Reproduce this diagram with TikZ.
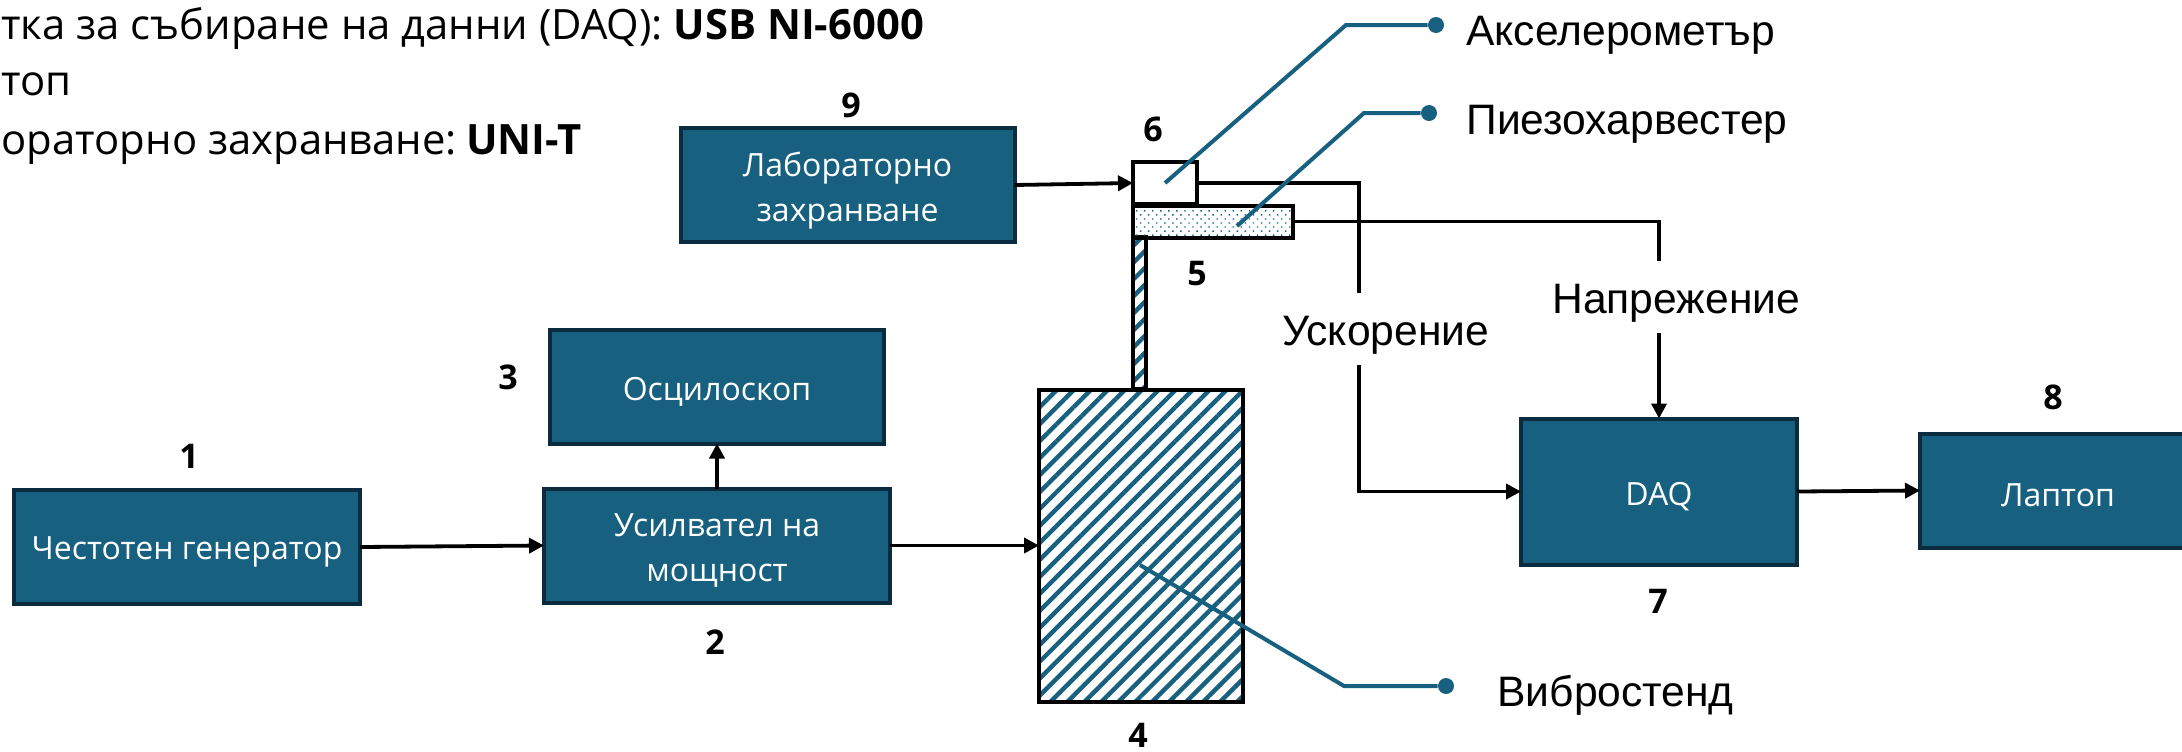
\documentclass[tikz,border=0pt]{standalone}
\usepackage{fontspec}
\setmainfont{Open Sans}
\newfontfamily\labelfont{Liberation Sans}
\usetikzlibrary{arrows.meta,patterns.meta}
\definecolor{benchBlue}{HTML}{17607F}
\definecolor{benchDark}{HTML}{0B2C3F}
\tikzset{
  blockbox/.style={draw=benchDark, fill=benchBlue, line width=2pt, inner sep=0, outer sep=0},
  blocktext/.style={yshift=-2.6pt, inner sep=0, text=white, align=center,
    font=\fontsize{16}{22.5}\selectfont},
  partbox/.style={draw=black, line width=2pt, inner sep=0, outer sep=0},
  numlabel/.style={inner sep=0, font=\bfseries\fontsize{17}{20}\selectfont},
  signallabel/.style={inner sep=0, anchor=base west, font=\labelfont\fontsize{21.3}{25}\selectfont},
  conn/.style={draw=black, line width=1.9pt, -{Triangle[length=7.5pt,width=7.5pt]}},
  wire/.style={draw=black, line width=1.9pt},
  leaderline/.style={draw=benchBlue, line width=2pt},
  leaderdot/.style={circle, fill=benchBlue, inner sep=0, minimum size=8pt},
  toptext/.style={inner sep=0, anchor=base west, font=\fontsize{20.9}{25}\selectfont},
  hatchfill/.style={pattern={Lines[angle=45,distance=6pt,line width=2.2pt]}, pattern color=benchBlue},
}

\begin{document}
\begin{tikzpicture}[x=0.5pt, y=-0.5pt]
\useasboundingbox (0,0) rectangle (2182,751);

% --- text at top ---
\node[toptext] (lineA) at (1,39) {тка за събиране на данни (DAQ): \textbf{USB NI-6000}};
\node[toptext] (lineB) at (1,95) {топ};
\node[toptext] (lineC) at (1,154) {ораторно захранване:\hspace{-0.12em} \textbf{UNI-T}};

% --- blocks ---
\node[blockbox, minimum width=173pt, minimum height=57pt,
  label={[blocktext]center:{Честотен генератор}}] (gen) at (187,547) {};
\node[blockbox, minimum width=173pt, minimum height=57pt,
  label={[blocktext]center:{Усилвател на\\мощност}}] (amp) at (717,545.5) {};
\node[blockbox, minimum width=167pt, minimum height=57pt,
  label={[blocktext]center:{Осцилоскоп}}] (osc) at (717,386.5) {};
\node[blockbox, minimum width=167pt, minimum height=57pt,
  label={[blocktext]center:{Лабораторно\\захранване}}] (supply) at (847.5,185) {};
\node[blockbox, minimum width=138pt, minimum height=73pt,
  label={[blocktext]center:{DAQ}}] (daq) at (1659,491.5) {};
\node[blockbox, minimum width=138pt, minimum height=57pt,
  label={[blocktext]center:{Лаптоп}}] (laptop) at (2058,490.5) {};

% --- shaker with beam and sensors ---
\node[partbox, hatchfill, minimum width=6.5pt, minimum height=76pt] (column) at (1139.5,313) {};
\node[partbox, hatchfill, minimum width=102pt, minimum height=156pt] (stand) at (1141,545.5) {};
\node[partbox, minimum width=32pt, minimum height=21pt] (accel) at (1165,183) {};
\node[partbox, pattern={Dots[distance=2.85pt,angle=45,radius=0.5pt]}, pattern color=benchBlue,
  minimum width=80pt, minimum height=16pt] (piezo) at (1213,221.5) {};

% --- numbers ---
\node[numlabel] (numA) at (189,456) {1};
\node[numlabel] (numB) at (715,642) {2};
\node[numlabel] (numC) at (508,377) {3};
\node[numlabel] (numD) at (1138,735) {4};
\node[numlabel] (numE) at (1197,274) {5};
\node[numlabel] (numF) at (1153,129) {6};
\node[numlabel] (numG) at (1658,601) {7};
\node[numlabel] (numH) at (2053,397) {8};
\node[numlabel] (numI) at (851,105) {9};

% --- signal names ---
\node[signallabel] (usk) at (1282,345) {Ускорение};
\node[signallabel] (nap) at (1552,313) {Напрежение};
\node[signallabel] (acclabel) at (1466,45) {Акселерометър};
\node[signallabel] (pzlabel) at (1466,134) {Пиезохарвестер};
\node[signallabel] (vblabel) at (1497,706) {Вибростенд};

% --- connectors ---
\coordinate (uskTop) at (1359,293);
\coordinate (uskBot) at (1359,365);
\coordinate (napTop) at (1659,261);
\coordinate (napBot) at (1659,333);
\draw[conn] (gen.east) -- (amp.west);
\draw[conn] (amp.north) -- (osc.south);
\draw[conn] (amp.east) -- (stand.west);
\draw[conn] (supply.east) -- (accel.west);
\draw[conn] (daq.east) -- (laptop.west);
\draw[wire] (accel.east) -| (uskTop);
\draw[conn] (uskBot) |- (daq.west);
\draw[wire] (piezo.east) -| (napTop);
\draw[conn] (napBot) -- (daq.north);

% --- leaders ---
\coordinate (accIn) at (1165,183);
\coordinate (accKnee) at (1346,25);
\coordinate (pzIn) at (1237,226);
\coordinate (pzKnee) at (1364,113);
\coordinate (vbIn) at (1140,565);
\coordinate (vbKnee) at (1344,686);
\node[leaderdot] (accDot) at (1436,25) {};
\node[leaderdot] (pzDot) at (1429,113) {};
\node[leaderdot] (vbDot) at (1446,686) {};
\draw[leaderline] (accIn) -- (accKnee) -- (accDot);
\draw[leaderline] (pzIn) -- (pzKnee) -- (pzDot);
\draw[leaderline] (vbIn) -- (vbKnee) -- (vbDot);

\end{tikzpicture}
\end{document}
